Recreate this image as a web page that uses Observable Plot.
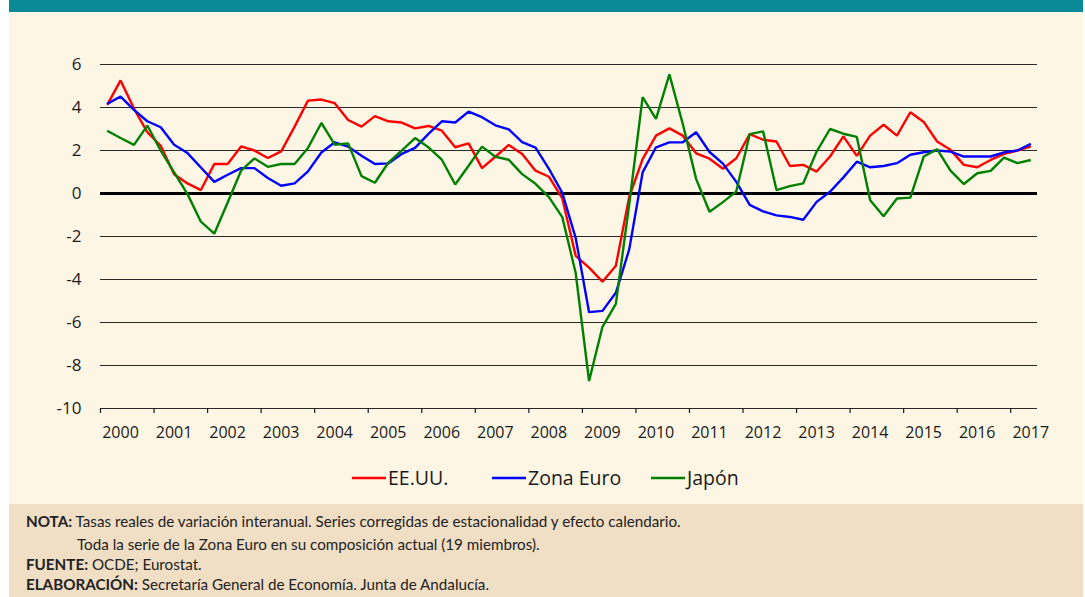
<!DOCTYPE html>
<html>
<head>
<meta charset="utf-8">
<script src="https://cdn.jsdelivr.net/npm/d3@7"></script>
<script src="https://cdn.jsdelivr.net/npm/@observablehq/plot@0.6"></script>
<style>
  html, body { margin: 0; padding: 0; background: #ffffff; }
  body { width: 1085px; height: 597px; position: relative; overflow: hidden; font-family: "Open Sans", sans-serif; }
  #bg { position: absolute; left: 0; top: 0; }
  #chart { position: absolute; left: 0; top: 12px; }
</style>
</head>
<body>
<svg id="bg" width="1085" height="597" xmlns="http://www.w3.org/2000/svg"></svg>
<div id="chart"></div>
<script>
// ---- Data (tasas reales de variación interanual, trimestral, 2000T1 – 2017T2) ----
const startYear = 2000;
const years = [2000,2001,2002,2003,2004,2005,2006,2007,2008,2009,2010,2011,2012,2013,2014,2015,2016,2017];
const yTicks = [-10,-8,-6,-4,-2,0,2,4,6];
const seriesNames = ["EE.UU.", "Zona Euro", "Japón"];
const seriesColors = ["#FF0000", "#0000FF", "#008000"];

const eeuu = [
  4.12, 5.26, 3.95, 2.85, 2.22, 0.90, 0.47, 0.16,
  1.37, 1.37, 2.19, 2.00, 1.65, 1.96, 3.11, 4.32,
  4.37, 4.20, 3.42, 3.11, 3.60, 3.36, 3.30, 3.03,
  3.14, 2.92, 2.15, 2.33, 1.18, 1.71, 2.26, 1.84,
  1.06, 0.78, -0.23, -2.90, -3.45, -4.10, -3.36, -0.15,
  1.60, 2.69, 3.03, 2.69, 1.87, 1.62, 1.15, 1.64,
  2.76, 2.50, 2.42, 1.28, 1.33, 1.02, 1.72, 2.66,
  1.75, 2.69, 3.20, 2.69, 3.78, 3.33, 2.42, 2.03,
  1.33, 1.22, 1.56, 1.84, 2.00, 2.19
];
const zonaEuro = [
  4.17, 4.51, 3.89, 3.36, 3.08, 2.27, 1.88, 1.21,
  0.54, 0.87, 1.18, 1.18, 0.72, 0.36, 0.47, 1.03,
  1.91, 2.38, 2.18, 1.76, 1.37, 1.40, 1.84, 2.12,
  2.77, 3.36, 3.30, 3.81, 3.55, 3.17, 2.98, 2.39,
  2.13, 1.15, 0.03, -2.07, -5.52, -5.46, -4.62, -2.60,
  0.98, 2.15, 2.38, 2.38, 2.85, 1.93, 1.39, 0.54,
  -0.53, -0.83, -1.02, -1.09, -1.22, -0.39, 0.08, 0.75,
  1.48, 1.22, 1.28, 1.41, 1.80, 1.92, 2.00, 1.95,
  1.72, 1.72, 1.72, 1.91, 2.00, 2.31
];
const japon = [
  2.92, 2.58, 2.26, 3.16, 1.99, 0.98, -0.03, -1.31,
  -1.87, -0.42, 1.06, 1.63, 1.24, 1.37, 1.37, 2.12,
  3.28, 2.27, 2.33, 0.81, 0.50, 1.43, 1.99, 2.58,
  2.15, 1.57, 0.42, 1.29, 2.18, 1.71, 1.57, 0.90,
  0.45, -0.17, -1.10, -3.70, -8.72, -6.20, -5.13, -0.50,
  4.48, 3.47, 5.54, 3.23, 0.67, -0.85, -0.40, 0.10,
  2.76, 2.89, 0.16, 0.34, 0.47, 1.95, 3.00, 2.78,
  2.63, -0.31, -1.06, -0.23, -0.19, 1.72, 2.06, 1.06,
  0.44, 0.94, 1.05, 1.67, 1.41, 1.56
];

const noteLines = [
  {bold: "NOTA:", text: " Tasas reales de variación interanual. Series corregidas de estacionalidad y efecto calendario."},
  {bold: "", text: "Toda la serie de la Zona Euro en su composición actual (19 miembros)."},
  {bold: "FUENTE:", text: " OCDE; Eurostat."},
  {bold: "ELABORACIÓN:", text: " Secretaría General de Economía. Junta de Andalucía."}
];

// ---- Build table ----
const valuesBySeries = [eeuu, zonaEuro, japon];
const rows = seriesNames.flatMap((name, s) =>
  valuesBySeries[s].map((v, i) => ({serie: name, t: startYear + i / 4 + 0.125, v}))
);

// ---- Background, legend and notes ----
const bg = d3.select("#bg");
bg.append("rect").attr("x", 9).attr("y", 0).attr("width", 1074).attr("height", 12).attr("fill", "#0A8A96");
bg.append("rect").attr("x", 9).attr("y", 12).attr("width", 1074).attr("height", 492).attr("fill", "#FDF6E4");
bg.append("rect").attr("x", 9).attr("y", 504).attr("width", 1074).attr("height", 93).attr("fill", "#F0DEC5");

const legendX = [352, 492, 651];
seriesNames.forEach((name, s) => {
  const g = bg.append("g").attr("transform", `translate(${legendX[s]},478)`);
  g.append("line").attr("x1", 0).attr("x2", 34).attr("y1", 0).attr("y2", 0)
    .attr("stroke", seriesColors[s]).attr("stroke-width", 2.6);
  g.append("text").attr("x", 36).attr("y", 7).attr("font-size", 19.5)
    .attr("font-family", "Open Sans, sans-serif").attr("fill", "#1a1a1a").text(name);
});

const noteBaselines = [527, 550, 570, 590];
const noteX = [26, 77, 26, 26];
noteLines.forEach((ln, k) => {
  const t = bg.append("text").attr("x", noteX[k]).attr("y", noteBaselines[k])
    .attr("font-family", "Lato, sans-serif").attr("font-size", 15.2).attr("fill", "#222");
  if (ln.bold) t.append("tspan").attr("font-weight", 700).text(ln.bold);
  t.append("tspan").text(ln.text);
});

// ---- Chart ----
const chart = Plot.plot({
  width: 1085,
  height: 440,
  marginLeft: 100,
  marginRight: 48,
  marginTop: 52,
  marginBottom: 44,
  style: {background: "transparent", fontFamily: "Open Sans, sans-serif", overflow: "visible", color: "#1a1a1a"},
  x: {domain: [2000, 2017.5], axis: null},
  y: {domain: [-10, 6], axis: null},
  color: {domain: seriesNames, range: seriesColors},
  marks: [
    Plot.ruleY(yTicks, {stroke: "#2a2a2a", strokeWidth: 1.1}),
    Plot.ruleY([0], {stroke: "#000", strokeWidth: 3}),
    Plot.axisX({ticks: years, tickSize: 5, tickFormat: () => "", label: null, stroke: "#1a1a1a", strokeWidth: 1.2}),
    Plot.axisX({ticks: years, tickSize: 0, tickPadding: 18, dx: 20, fontSize: 16, label: null, tickFormat: d => String(d), fill: "#1a1a1a"}),
    Plot.axisY({ticks: yTicks, tickSize: 0, tickPadding: 19, fontSize: 17, label: null, tickFormat: d => String(d), fill: "#1a1a1a"}),
    Plot.line(rows, {x: "t", y: "v", stroke: "serie", strokeWidth: 2.4, strokeLinejoin: "miter", strokeLinecap: "butt"})
  ]
});
document.getElementById("chart").appendChild(chart);
</script>
</body>
</html>
